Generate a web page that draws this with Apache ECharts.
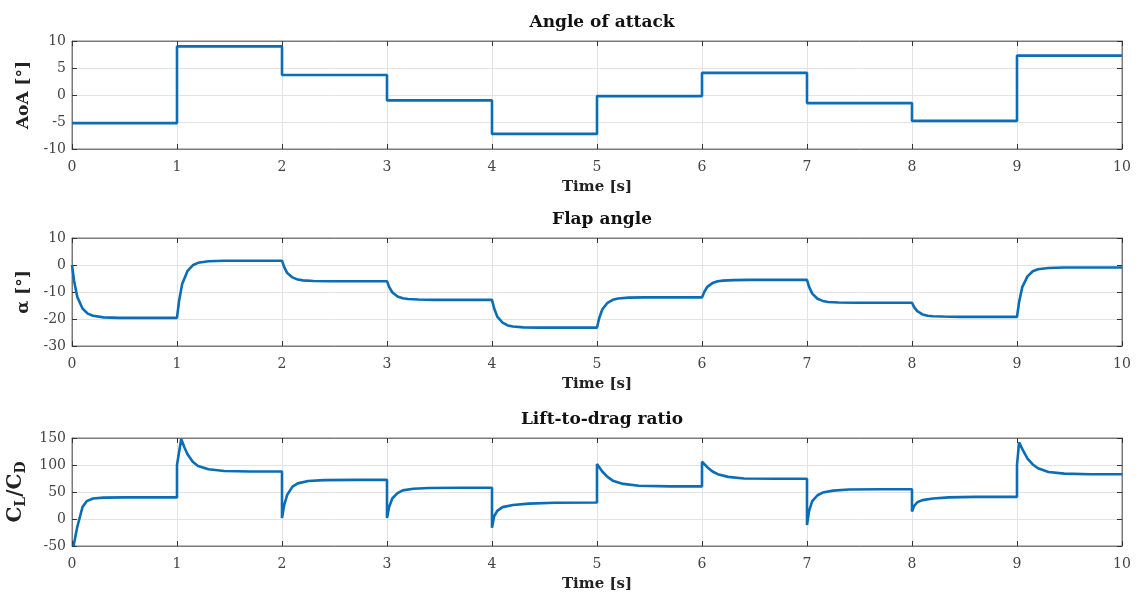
<!DOCTYPE html>
<html>
<head>
<meta charset="utf-8">
<title>Angle of attack / Flap angle / Lift-to-drag ratio</title>
<script src="https://cdn.jsdelivr.net/npm/echarts@6/dist/echarts.min.js"></script>
<style>
html, body { margin: 0; padding: 0; background: #fff; }
#main { width: 1137px; height: 595px; }
</style>
</head>
<body>
<div id="main"></div>
<script>
// angle of attack: piecewise constant steps every second
var aoaTime = [0, 1, 1, 2, 2, 3, 3, 4, 4, 5, 5, 6, 6, 7, 7, 8, 8, 9, 9, 10];
var aoaDeg  = [-5.2, -5.2, 9, 9, 3.7, 3.7, -1, -1, -7.2, -7.2, -0.2, -0.2, 4.1, 4.1, -1.5, -1.5, -4.8, -4.8, 7.3, 7.3];

// flap angle response
var flapTime = [
  0, 0.02, 0.05, 0.1, 0.15, 0.2, 0.3, 0.45,
  1, 1.02, 1.05, 1.1, 1.15, 1.2, 1.3, 1.45,
  2, 2.02, 2.05, 2.1, 2.15, 2.2, 2.3, 2.45,
  3, 3.02, 3.05, 3.1, 3.15, 3.2, 3.3, 3.45,
  4, 4.02, 4.05, 4.1, 4.15, 4.2, 4.3, 4.45,
  5, 5.02, 5.05, 5.1, 5.15, 5.2, 5.3, 5.45,
  6, 6.02, 6.05, 6.1, 6.15, 6.2, 6.3, 6.45,
  7, 7.02, 7.05, 7.1, 7.15, 7.2, 7.3, 7.45,
  8, 8.02, 8.05, 8.1, 8.15, 8.2, 8.3, 8.45,
  9, 9.02, 9.05, 9.1, 9.15, 9.2, 9.3, 9.45,
  10
];
var flapDeg = [
  0, -5.9, -11.8, -16.1, -18.0, -18.8, -19.4, -19.6,
  -19.6, -13.2, -6.9, -2.2, -0.1, 0.8, 1.4, 1.6,
  1.6, -0.7, -3.0, -4.6, -5.4, -5.7, -5.9, -6.0,
  -6.0, -8.1, -10.1, -11.7, -12.3, -12.6, -12.8, -12.9,
  -12.9, -16.0, -19.1, -21.3, -22.4, -22.8, -23.1, -23.2,
  -23.2, -19.8, -16.5, -14.0, -12.9, -12.4, -12.1, -12.0,
  -12.0, -10.1, -8.1, -6.7, -6.0, -5.8, -5.6, -5.5,
  -5.5, -8.1, -10.6, -12.5, -13.3, -13.7, -13.9, -14.0,
  -14.0, -15.6, -17.1, -18.3, -18.8, -19.0, -19.1, -19.2,
  -19.2, -13.7, -8.2, -4.2, -2.3, -1.6, -1.1, -0.9,
  -0.9
];

// lift-to-drag ratio
var ldTime = [
  0.015, 0.05, 0.07, 0.1, 0.14, 0.2, 0.3, 0.5,
  1, 1, 1.04, 1.07, 1.1, 1.15, 1.2, 1.3, 1.45, 1.7,
  2, 2, 2.02, 2.05, 2.1, 2.15, 2.25, 2.4, 2.7,
  3, 3, 3.02, 3.05, 3.1, 3.15, 3.25, 3.4, 3.7,
  4, 4, 4.02, 4.05, 4.1, 4.2, 4.35, 4.6,
  5, 5, 5.05, 5.1, 5.15, 5.25, 5.4, 5.7,
  6, 6, 6.05, 6.1, 6.15, 6.25, 6.4, 6.7,
  7, 7, 7.02, 7.05, 7.1, 7.15, 7.25, 7.4, 7.7,
  8, 8, 8.02, 8.05, 8.1, 8.2, 8.35, 8.6,
  9, 9, 9.02, 9.06, 9.1, 9.15, 9.2, 9.3, 9.45, 9.7,
  10
];
var ldRatio = [
  -50, -15, 0, 22, 33, 38, 39.6, 40,
  40, 100, 148, 133, 120, 106, 98, 92, 89, 88,
  88, 2, 25, 45, 60, 66, 70.5, 72, 72.5,
  72.5, 2, 22, 38, 48, 53, 56, 57.5, 58,
  58, -16, 5, 15, 22, 26, 28.5, 30,
  30.5, 102, 88, 78, 71, 65, 61.5, 60.5,
  60.5, 106, 96, 88, 83, 78, 75, 74.5,
  74.5, -11, 15, 33, 44, 49, 52.5, 54.5, 55,
  55, 14, 24, 31, 35, 38, 40, 41,
  41, 100, 142, 126, 112, 101, 94, 87, 84, 83,
  83
];

var xTicks = { min: 0, max: 10, interval: 1 };
var panels = [
  { title: 'Angle of attack', name: 'AoA [°]', min: -10, max: 10, interval: 5, time: aoaTime, vals: aoaDeg },
  { title: 'Flap angle', name: 'α [°]', min: -30, max: 10, interval: 10, time: flapTime, vals: flapDeg },
  { title: 'Lift-to-drag ratio', name: '{b|C}{s|L}{b|/C}{s|D}', min: -50, max: 150, interval: 50, time: ldTime, vals: ldRatio }
];
var gridTops = [41, 238, 438];
var gridH = 108;

var font = 'DejaVu Serif';
var boxColor = '#7a7a7a';
var tickColor = '#333';

function pairs(t, v) {
  var out = [];
  for (var i = 0; i < t.length; i++) out.push([t[i], v[i]]);
  return out;
}

var option = {
  animation: false,
  textStyle: { fontFamily: font },
  title: [], grid: [], xAxis: [], yAxis: [], series: []
};

panels.forEach(function (p, i) {
  option.title.push({
    text: p.title, left: 597, top: gridTops[i] - 32, textAlign: 'center',
    textStyle: { fontFamily: font, fontWeight: 'bold', fontSize: 17, color: '#111' }
  });
  option.grid.push({
    left: 72, right: 15, top: gridTops[i], height: gridH,
    outerBoundsMode: 'none', containLabel: false,
    show: true, borderColor: boxColor, borderWidth: 1, backgroundColor: '#fff'
  });
  // bottom x axis with labels
  option.xAxis.push({
    type: 'value', gridIndex: i, min: xTicks.min, max: xTicks.max, interval: xTicks.interval,
    name: 'Time [s]', nameLocation: 'middle', nameGap: 31,
    nameTextStyle: { fontFamily: font, fontWeight: 'bold', fontSize: 15, color: '#222' },
    axisLine: { show: true, onZero: false, lineStyle: { color: boxColor } },
    axisTick: { show: true, inside: true, length: 5, lineStyle: { color: tickColor } },
    axisLabel: { fontFamily: font, fontSize: 14, color: '#444', margin: 11 },
    splitLine: { show: true, lineStyle: { color: '#e3e3e3', width: 1 } }
  });
  // top x axis, ticks only
  option.xAxis.push({
    type: 'value', gridIndex: i, position: 'top', min: xTicks.min, max: xTicks.max, interval: xTicks.interval,
    axisLine: { show: true, onZero: false, lineStyle: { color: boxColor } },
    axisTick: { show: true, inside: true, length: 5, lineStyle: { color: tickColor } },
    axisLabel: { show: false }, splitLine: { show: false }
  });
  option.yAxis.push({
    type: 'value', gridIndex: i, min: p.min, max: p.max, interval: p.interval,
    name: p.name, nameLocation: 'middle', nameGap: i === 2 ? 36 : 38, nameRotate: 90,
    nameTextStyle: {
      fontFamily: font, fontWeight: 'bold', fontSize: 17, color: '#222',
      rich: {
        b: { fontFamily: font, fontSize: 20, color: '#222', lineHeight: 26 },
        s: { fontFamily: font, fontSize: 14, color: '#222', lineHeight: 26, verticalAlign: 'bottom', padding: [9, 0, 0, 0] }
      }
    },
    axisLine: { show: true, onZero: false, lineStyle: { color: boxColor } },
    axisTick: { show: true, inside: true, length: 5, lineStyle: { color: tickColor } },
    axisLabel: { fontFamily: font, fontSize: 14, color: '#444', margin: 6 },
    splitLine: { show: true, lineStyle: { color: '#e3e3e3', width: 1 } }
  });
  option.yAxis.push({
    type: 'value', gridIndex: i, position: 'right', min: p.min, max: p.max, interval: p.interval,
    axisLine: { show: true, onZero: false, lineStyle: { color: boxColor } },
    axisTick: { show: true, inside: true, length: 5, lineStyle: { color: tickColor } },
    axisLabel: { show: false }, splitLine: { show: false }
  });
  option.series.push({
    type: 'line', xAxisIndex: i * 2, yAxisIndex: i * 2,
    data: pairs(p.time, p.vals), showSymbol: false, clip: true,
    lineStyle: { color: '#0a6db5', width: 2.6 }
  });
});

var chart = echarts.init(document.getElementById('main'));
chart.setOption(option);
</script>
</body>
</html>
